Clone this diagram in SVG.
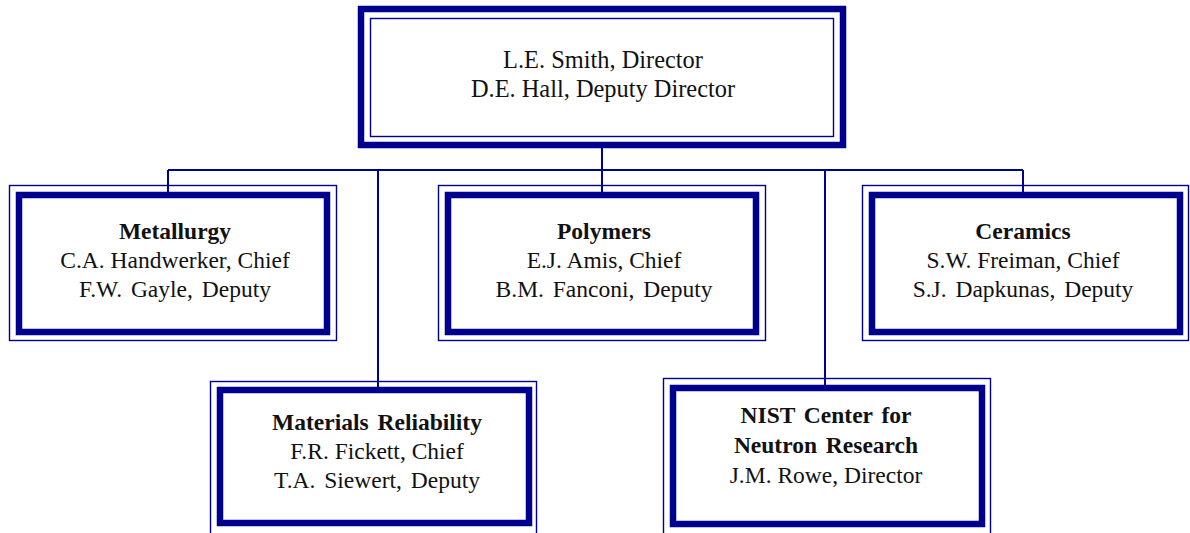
<svg xmlns="http://www.w3.org/2000/svg" width="1190" height="533" viewBox="0 0 1190 533">
<style>
.thick{fill:none;stroke:#00008f;stroke-width:6.5}
.thin{fill:none;stroke:#00008f;stroke-width:1.4}
.conn{fill:none;stroke:#00008f;stroke-width:2}
text{font-family:"Liberation Serif","Times New Roman",serif;font-size:23.5px;fill:#111;text-anchor:middle}
.b{font-weight:bold}
.top{font-size:24.4px}
</style>
<rect width="1190" height="533" fill="#fff"/>
<g id="connectors">
<path class="conn" d="M602,148 V170 M168,170 H1023 M168,170 V192 M602,170 V192 M1023,170 V192 M378,170 V387 M825,170 V385"/>
</g>
<g id="director">
<rect class="thin" x="370.5" y="18.5" width="463" height="118"/>
<rect class="thick" x="361" y="9" width="482" height="136"/>
<text class="top" x="603" y="68">L.E. Smith, Director</text>
<text class="top" x="603" y="97">D.E. Hall, Deputy Director</text>
</g>
<g id="metallurgy">
<rect class="thin" x="9.5" y="185.5" width="327" height="155"/>
<rect class="thick" x="19" y="195" width="308" height="137"/>
<text class="b" x="175" y="239">Metallurgy</text>
<text x="175" y="268">C.A. Handwerker, Chief</text>
<text x="175" y="297" word-spacing="3">F.W. Gayle, Deputy</text>
</g>
<g id="polymers">
<rect class="thin" x="438.5" y="185.5" width="327" height="155"/>
<rect class="thick" x="448" y="195" width="308" height="137"/>
<text class="b" x="604" y="239">Polymers</text>
<text x="604" y="268">E.J. Amis, Chief</text>
<text x="604" y="297" word-spacing="3">B.M. Fanconi, Deputy</text>
</g>
<g id="ceramics">
<rect class="thin" x="862.5" y="185.5" width="326" height="155"/>
<rect class="thick" x="872" y="195" width="308" height="137"/>
<text class="b" x="1023" y="239">Ceramics</text>
<text x="1023" y="268">S.W. Freiman, Chief</text>
<text x="1023" y="297" word-spacing="3">S.J. Dapkunas, Deputy</text>
</g>
<g id="materials-reliability">
<rect class="thin" x="210.5" y="381.5" width="326" height="170"/>
<rect class="thick" x="220" y="390" width="309" height="133"/>
<text class="b" x="377" y="430" word-spacing="3">Materials Reliability</text>
<text x="377" y="459">F.R. Fickett, Chief</text>
<text x="377" y="488" word-spacing="3">T.A. Siewert, Deputy</text>
</g>
<g id="ncnr">
<rect class="thin" x="663.5" y="378.5" width="327" height="170"/>
<rect class="thick" x="673" y="388" width="309" height="136"/>
<text class="b" x="826" y="423" word-spacing="3">NIST Center for</text>
<text class="b" x="826" y="453" word-spacing="3">Neutron Research</text>
<text x="826" y="483">J.M. Rowe, Director</text>
</g>
</svg>
